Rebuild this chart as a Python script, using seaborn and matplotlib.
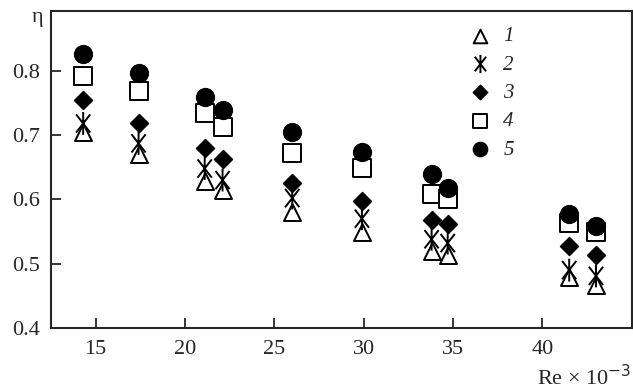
import numpy as np
import pandas as pd
import matplotlib
matplotlib.use("Agg")
import matplotlib.pyplot as plt
from matplotlib.path import Path
import seaborn as sns

# Re x 10^-3 positions of the measurement columns
re = [14.3, 17.4, 21.1, 22.1, 26.0, 29.9, 33.8, 34.7, 41.5, 43.0]

eta_1 = [0.704, 0.670, 0.628, 0.614, 0.580, 0.549, 0.519, 0.513, 0.479, 0.467]
eta_2 = [0.718, 0.687, 0.648, 0.630, 0.602, 0.570, 0.538, 0.532, 0.490, 0.481]
eta_3 = [0.754, 0.718, 0.680, 0.663, 0.626, 0.598, 0.568, 0.562, 0.527, 0.514]
eta_4 = [0.792, 0.768, 0.734, 0.712, 0.672, 0.648, 0.608, 0.601, 0.564, 0.550]
eta_5 = [0.826, 0.796, 0.759, 0.739, 0.704, 0.674, 0.639, 0.617, 0.578, 0.558]

labels = ["1", "2", "3", "4", "5"]

df = pd.DataFrame({
    "Re": re * 5,
    "eta": eta_1 + eta_2 + eta_3 + eta_4 + eta_5,
    "series": [l for l in labels for _ in re],
})

# asterisk: vertical bar plus a steep X
star = Path([(0, -1), (0, 1), (-0.62, -0.8), (0.62, 0.8), (-0.62, 0.8), (0.62, -0.8)],
            [Path.MOVETO, Path.LINETO, Path.MOVETO, Path.LINETO, Path.MOVETO, Path.LINETO])

styles = {
    "1": dict(marker="^", s=150, facecolor="white", edgecolor="black", linewidth=1.4),
    "2": dict(marker=star, s=270, facecolor="none", edgecolor="black", linewidth=1.4),
    "3": dict(marker="D", s=85, facecolor="black", edgecolor="black", linewidth=1.0),
    "4": dict(marker="s", s=150, facecolor="white", edgecolor="black", linewidth=1.4),
    "5": dict(marker="o", s=165, facecolor="black", edgecolor="black", linewidth=1.0),
}

sns.set_style("ticks")
plt.rcParams["font.family"] = ["Liberation Serif", "DejaVu Serif"]

fig, ax = plt.subplots(figsize=(6.33, 3.9), dpi=100)
fig.subplots_adjust(left=0.0806, right=0.998, top=0.972, bottom=0.159)

for lab in labels:
    sub = df[df["series"] == lab]
    sns.scatterplot(data=sub, x="Re", y="eta", ax=ax, label=lab, zorder=3, **styles[lab])

ax.set_xlim(12.5, 45)
ax.set_ylim(0.4, 0.893)
ax.set_xticks([15, 20, 25, 30, 35, 40])
ax.set_yticks([0.4, 0.5, 0.6, 0.7, 0.8])
ax.set_yticklabels(["0.4", "0.5", "0.6", "0.7", "0.8"])
ax.tick_params(direction="in", length=7, width=1.3, labelsize=16)
ax.tick_params(axis="x", pad=9)
ax.tick_params(axis="y", pad=8)
for sp in ax.spines.values():
    sp.set_visible(True)
    sp.set_linewidth(1.5)

ax.set_ylabel("η", rotation=0, fontsize=16, ha="center", va="center")
ax.yaxis.set_label_coords(-0.024, 0.978)
ax.set_xlabel("Re × 10$^{-3}$", fontsize=16, ha="right", va="center")
ax.xaxis.set_label_coords(1.0, -0.155)

leg = ax.legend(loc="upper left", bbox_to_anchor=(0.7, 0.99), frameon=False,
                markerscale=0.8, handlelength=1.0, handletextpad=0.6, labelspacing=0.42,
                borderaxespad=0.2,
                prop={"family": "Liberation Serif", "style": "italic", "size": 15})

plt.savefig("out.png", dpi=100)
